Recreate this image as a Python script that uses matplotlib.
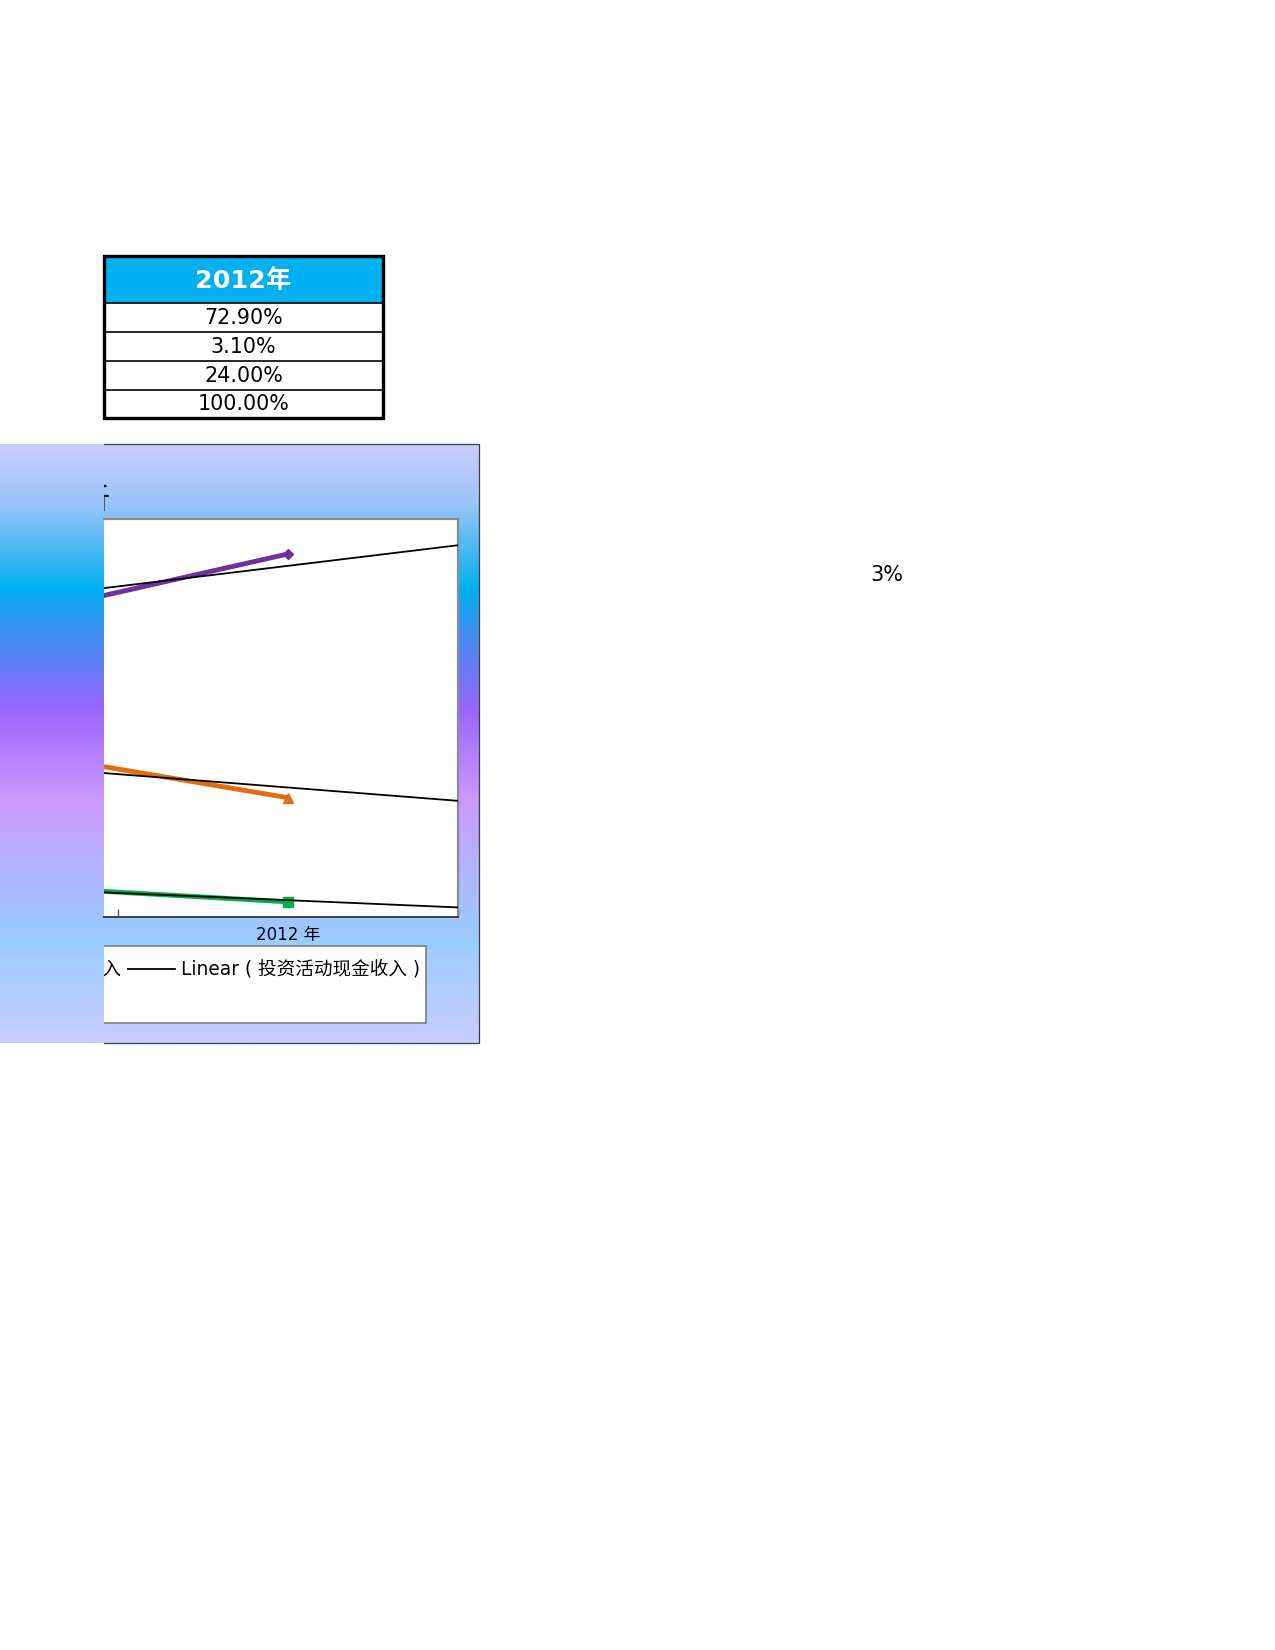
import matplotlib
matplotlib.use("Agg")
import matplotlib.pyplot as plt
import numpy as np
from matplotlib.colors import LinearSegmentedColormap
from matplotlib.patches import Rectangle
from matplotlib.lines import Line2D

plt.rcParams['font.family'] = ['DejaVu Sans', 'Noto Sans CJK SC']

# data
years = ['2010 年', '2011 年', '2012 年']
operating = [0.564, 0.575, 0.729]   # 经营活动现金收入
investing = [0.089, 0.070, 0.031]   # 投资活动现金收入
financing = [0.347, 0.355, 0.240]   # 筹资活动现金收入
table_header = '2012年'
table_rows = ['72.90%', '3.10%', '24.00%', '100.00%']
chart_title = '现金收入结构分析'
side_label = '3%'

W, H = 1275, 1650
fig = plt.figure(figsize=(W / 100, H / 100), dpi=100)


def box(x0, y0, x1, y1):
    # pixel box (top-left origin) -> figure fraction rect
    return [x0 / W, 1 - y1 / H, (x1 - x0) / W, (y1 - y0) / H]


# chart area background gradient
ca_top, ca_bot, ca_right, clip_x = 444, 1043, 479, 104
ax_bg = fig.add_axes(box(0, ca_top, ca_right, ca_bot), zorder=0)
stops = [(0, '#CACCFF'), (0.10, '#99C4F8'), (0.239, '#00B0F0'), (0.31, '#3A90F0'),
         (0.443, '#9966FF'), (0.595, '#CC99FF'), (0.825, '#99CCFF'), (1.0, '#C8CCFF')]
cmap = LinearSegmentedColormap.from_list('grad', stops)
ax_bg.imshow(np.linspace(0, 1, 600).reshape(-1, 1), aspect='auto', cmap=cmap,
             extent=[0, 1, 1, 0])
ax_bg.axis('off')

# plot area
ax = fig.add_axes(box(clip_x, 518.6, 457.6, 917.3), zorder=2)
ax.set_facecolor('white')
x = np.arange(len(years))
series = [(operating, '#7030A0', 'D', 5.5), (financing, '#E46C0A', '^', 7),
          (investing, '#00B050', 's', 7)]
xt = np.array([0, 2.5])
for vals, col, mk, ms in series:
    ax.plot(x, vals, color=col, lw=3.5, marker=mk, ms=ms, mfc=col, mec=col,
            solid_capstyle='butt', zorder=3)
    k, b = np.polyfit(x, vals, 1)
    ax.plot(xt, k * xt + b, color='black', lw=1.3, zorder=4)
ax.set_xticks([0.5, 1.5, 2.5])
ax.set_xticklabels([])
ax.set_xticks(x, minor=True)
ax.set_xticklabels(years, minor=True, fontsize=12)
ax.tick_params(axis='x', which='major', direction='in', length=6, width=1, color='#595959')
ax.tick_params(axis='x', which='minor', length=0, pad=6)
ax.set_yticks([])
ax.set_xlim(1.459, 2.5)
ax.set_ylim(0, 0.8)
ax.spines['left'].set_visible(False)
for s in ['top', 'right']:
    ax.spines[s].set_color('#8C8C8C')
    ax.spines[s].set_linewidth(1.6)
ax.spines['bottom'].set_color('#404040')
ax.spines['bottom'].set_linewidth(1.4)

# clipped overlay for the chart's title and legend
ov = fig.add_axes(box(clip_x, ca_top, ca_right, ca_bot), zorder=3)
ov.set_xlim(clip_x, ca_right)
ov.set_ylim(ca_bot, ca_top)
ov.axis('off')
ov.text(111, 500, chart_title, ha='right', va='center', fontsize=21, clip_on=True,
        family=['Noto Sans CJK SC'])
ov.add_patch(Rectangle((clip_x - 300, 946), 425.7 - clip_x + 300, 76.7, facecolor='white',
                       edgecolor='#7F7F7F', lw=1.2, clip_on=True))
ov.text(121.5, 969, '筹资活动现金收入', ha='right', va='center', fontsize=13.4,
        clip_on=True)
ov.add_line(Line2D([128, 175], [969, 969], color='black', lw=1.3))
ov.text(181, 969, 'Linear ( 投资活动现金收入 )', ha='left', va='center', fontsize=13.4,
        clip_on=True)

# full-figure overlay (pixels)
top = fig.add_axes([0, 0, 1, 1], zorder=4)
top.set_xlim(0, W)
top.set_ylim(H, 0)
top.axis('off')
top.patch.set_alpha(0)

# chart area border (left side clipped)
top.add_line(Line2D([clip_x, ca_right, ca_right, clip_x], [ca_top, ca_top, ca_bot, ca_bot],
                    color='#404040', lw=0.9))

# table
tx0, tx1 = 104, 383
ty = [256, 303, 332, 361, 389.5, 418]
top.add_patch(Rectangle((tx0, ty[0]), tx1 - tx0, ty[1] - ty[0], facecolor='#00B0F0',
                        edgecolor='none'))
top.text((tx0 + tx1) / 2, (ty[0] + ty[1]) / 2 + 1, table_header, ha='center', va='center',
         color='white', fontsize=18.3, fontweight='bold')
for i, r in enumerate(table_rows):
    top.text((tx0 + tx1) / 2, (ty[i + 1] + ty[i + 2]) / 2 + 0.5, r, ha='center', va='center',
             fontsize=14.9, color='black')
for yy in ty[1:-1]:
    top.add_line(Line2D([tx0, tx1], [yy, yy], color='black', lw=1.2))
top.add_patch(Rectangle((tx0, ty[0]), tx1 - tx0, ty[-1] - ty[0], facecolor='none',
                        edgecolor='black', lw=2.4))

top.text(887, 575, side_label, ha='center', va='center', fontsize=15)

fig.savefig('out.png', dpi=100)
